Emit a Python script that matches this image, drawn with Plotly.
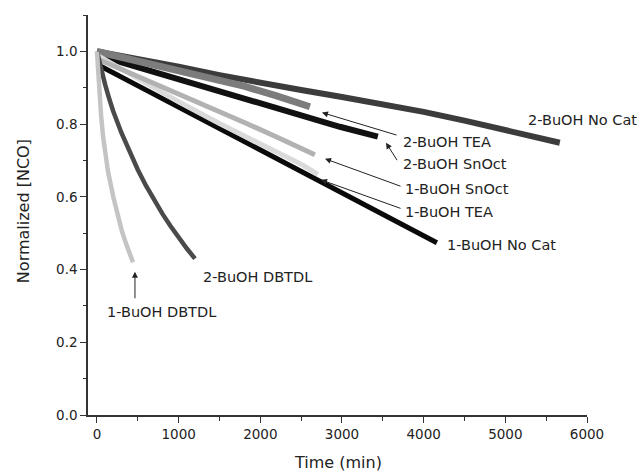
import plotly.graph_objects as go

# ---- data ----
t_2bu_nocat = [0, 500, 1000, 1500, 2000, 2500, 3000, 3500, 4000, 4500, 5000, 5500, 5667]
y_2bu_nocat = [1.0, 0.98, 0.958, 0.935, 0.913, 0.894, 0.875, 0.855, 0.834, 0.81, 0.784, 0.758, 0.749]

t_2bu_black = [0, 500, 1000, 1500, 1750, 2000, 2500, 2974, 3439]
y_2bu_black = [0.99, 0.957, 0.925, 0.89, 0.873, 0.858, 0.826, 0.793, 0.766]

t_2bu_gray = [0, 500, 1000, 1383, 1811, 2200, 2607]
y_2bu_gray = [1.0, 0.974, 0.949, 0.93, 0.904, 0.878, 0.848]

t_1bu_nocat = [0, 500, 1000, 1500, 2000, 2500, 3000, 3500, 4000, 4162]
y_1bu_nocat = [0.965, 0.906, 0.847, 0.787, 0.727, 0.668, 0.609, 0.55, 0.492, 0.474]

t_1bu_tea = [0, 500, 1000, 1500, 2000, 2500, 2705]
y_1bu_tea = [0.99, 0.925, 0.862, 0.802, 0.745, 0.69, 0.662]

t_1bu_snoct = [0, 500, 1000, 1500, 1811, 2200, 2668]
y_1bu_snoct = [0.98, 0.932, 0.885, 0.835, 0.804, 0.765, 0.716]

t_2bu_dbtdl = [0, 50, 100, 150, 200, 300, 400, 500, 600, 700, 800, 900, 1000, 1100, 1200]
y_2bu_dbtdl = [1.0, 0.952, 0.909, 0.87, 0.835, 0.776, 0.723, 0.675, 0.631, 0.591, 0.554, 0.52, 0.488, 0.458, 0.43]

t_1bu_dbtdl = [0, 15, 30, 50, 75, 100, 135, 200, 257, 300, 350, 400, 441]
y_1bu_dbtdl = [1.0, 0.94, 0.885, 0.825, 0.765, 0.72, 0.67, 0.6, 0.545, 0.51, 0.475, 0.445, 0.42]

# label texts and anchor positions (data coords)
label_texts = ["2-BuOH No Cat", "2-BuOH TEA", "2-BuOH SnOct", "1-BuOH SnOct",
               "1-BuOH TEA", "1-BuOH No Cat", "2-BuOH DBTDL", "1-BuOH DBTDL"]
label_x = [5250, 3720, 3720, 3745, 3745, 4260, 1270, 95]
label_y = [0.813, 0.752, 0.691, 0.623, 0.559, 0.468, 0.380, 0.284]

# arrows: (tail x, tail y, head x, head y)
arrow_tail_x = [3686, 3686, 3735, 3735, 465]
arrow_tail_y = [0.769, 0.697, 0.628, 0.567, 0.317]
arrow_head_x = [2755, 3539, 2792, 2743, 465]
arrow_head_y = [0.832, 0.749, 0.705, 0.647, 0.394]

FONT = "DejaVu Sans"
fig = go.Figure()

def band(x, y, color, width):
    fig.add_trace(go.Scatter(x=x, y=y, mode="lines",
                             line=dict(color=color, width=width),
                             showlegend=False, hoverinfo="skip"))

band(t_2bu_nocat, y_2bu_nocat, "#3c3c3c", 6)
band(t_2bu_black, y_2bu_black, "#111111", 6)
band(t_2bu_gray, y_2bu_gray, "#7c7c7c", 7)
band(t_1bu_nocat, y_1bu_nocat, "#0a0a0a", 5)
band(t_1bu_tea, y_1bu_tea, "#dadada", 5)
band(t_1bu_snoct, y_1bu_snoct, "#b2b2b2", 5)
band(t_2bu_dbtdl, y_2bu_dbtdl, "#4a4a4a", 4.5)
band(t_1bu_dbtdl, y_1bu_dbtdl, "#c4c4c4", 4.5)

annotations = []
for txt, x, y in zip(label_texts, label_x, label_y):
    annotations.append(dict(x=x, y=y, xref="x", yref="y", text=txt, showarrow=False,
                            xanchor="left", yanchor="middle",
                            font=dict(family=FONT, size=14.5, color="#222222")))
for tx, ty, hx, hy in zip(arrow_tail_x, arrow_tail_y, arrow_head_x, arrow_head_y):
    annotations.append(dict(x=hx, y=hy, xref="x", yref="y", ax=tx, ay=ty,
                            axref="x", ayref="y", text="", showarrow=True,
                            arrowhead=2, arrowsize=1.2, arrowwidth=1, arrowcolor="#222222"))

annotations.append(dict(x=0.501, y=-0.118, xref="paper", yref="paper", text="Time (min)",
                        showarrow=False, xanchor="center", yanchor="middle",
                        font=dict(family=FONT, size=16, color="#222222")))
annotations.append(dict(x=-0.130, y=0.51, xref="paper", yref="paper", text="Normalized [NCO]",
                        showarrow=False, xanchor="center", yanchor="middle", textangle=-90,
                        font=dict(family=FONT, size=16, color="#222222")))

axis_common = dict(showline=True, linecolor="#333333", linewidth=1.5, ticks="outside",
                   ticklen=6, tickwidth=1.3, tickcolor="#333333", showgrid=False,
                   zeroline=False, mirror=False,
                   tickfont=dict(family=FONT, size=13.5, color="#222222"))

fig.update_layout(
    width=640, height=474,
    margin=dict(l=88, r=53, t=15, b=59),
    plot_bgcolor="white", paper_bgcolor="white",
    xaxis=dict(range=[-110, 6000], tick0=0, dtick=1000,
               minor=dict(ticks="outside", ticklen=4, dtick=500, tick0=0, tickcolor="#333333"),
               **axis_common),
    yaxis=dict(range=[0, 1.1005], tick0=0, dtick=0.2, tickformat=".1f",
               minor=dict(ticks="outside", ticklen=3, dtick=0.1, tick0=0, tickcolor="#333333"),
               **axis_common),
    annotations=annotations,
)

fig.write_html("out.html")
